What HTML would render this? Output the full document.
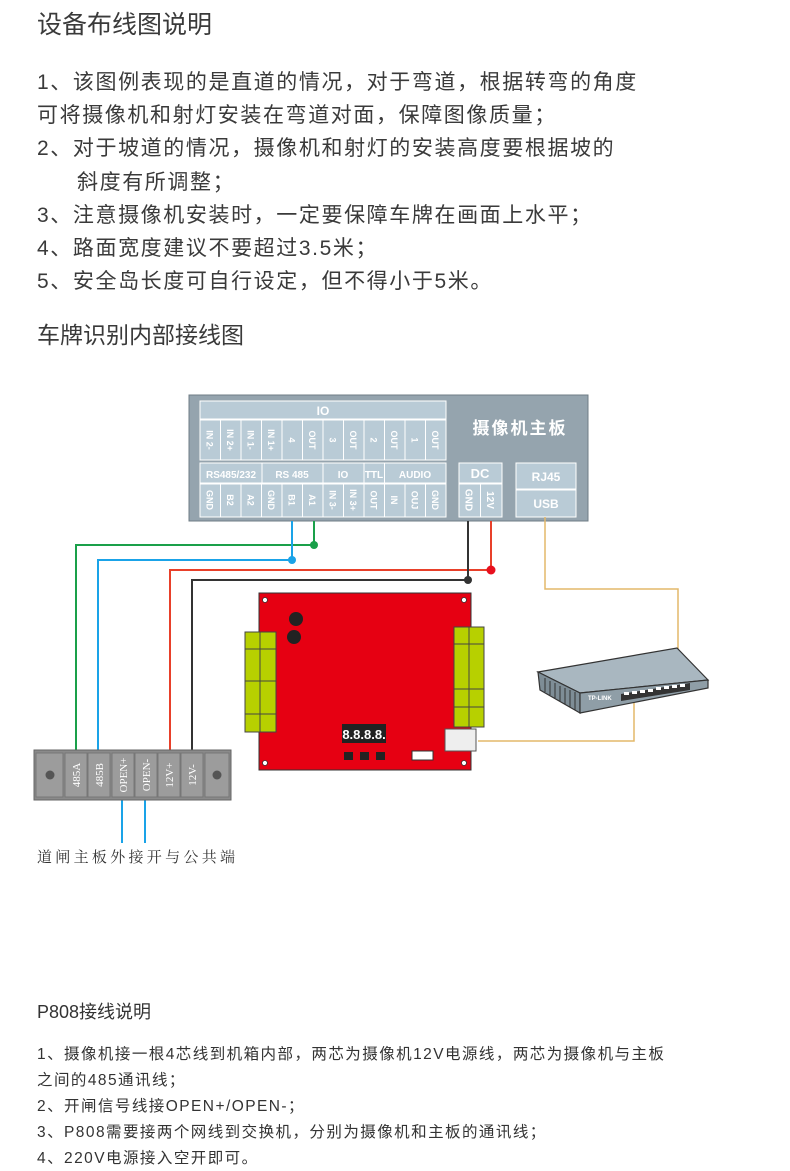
<!DOCTYPE html>
<html><head><meta charset="utf-8"><style>
html,body{margin:0;padding:0;background:#fff;}
body{width:790px;height:1171px;position:relative;overflow:hidden;font-family:"Liberation Sans","Noto Sans CJK SC",sans-serif;color:#333;}
.t{position:absolute;white-space:nowrap;left:37px;}
.h1{font-size:25px;top:5px;color:#3a3a3a;}
.p{font-size:21px;letter-spacing:1.6px;color:#3a3a3a;}
.h2{font-size:23px;top:316px;color:#3a3a3a;}
.h3{font-size:18px;top:998px;}
.q{font-size:15.5px;letter-spacing:1.45px;color:#333;}
svg{position:absolute;left:0;top:0;}
</style></head><body>
<div class="t h1">设备布线图说明</div>
<div class="t p" style="top:66px">1、该图例表现的是直道的情况，对于弯道，根据转弯的角度</div>
<div class="t p" style="top:99px">可将摄像机和射灯安装在弯道对面，保障图像质量；</div>
<div class="t p" style="top:132px">2、对于坡道的情况，摄像机和射灯的安装高度要根据坡的</div>
<div class="t p" style="top:166px;left:77px">斜度有所调整；</div>
<div class="t p" style="top:199px">3、注意摄像机安装时，一定要保障车牌在画面上水平；</div>
<div class="t p" style="top:232px">4、路面宽度建议不要超过3.5米；</div>
<div class="t p" style="top:265px">5、安全岛长度可自行设定，但不得小于5米。</div>
<div class="t h2">车牌识别内部接线图</div>
<div class="t h3">P808接线说明</div>
<div class="t q" style="top:1042px">1、摄像机接一根4芯线到机箱内部，两芯为摄像机12V电源线，两芯为摄像机与主板</div>
<div class="t q" style="top:1068px">之间的485通讯线；</div>
<div class="t q" style="top:1094px">2、开闸信号线接OPEN+/OPEN-；</div>
<div class="t q" style="top:1120px">3、P808需要接两个网线到交换机，分别为摄像机和主板的通讯线；</div>
<div class="t q" style="top:1146px">4、220V电源接入空开即可。</div>

<svg width="790" height="1171" viewBox="0 0 790 1171" font-family="Liberation Sans, Noto Sans CJK SC, sans-serif">
<!-- camera board -->
<rect x="189" y="395" width="399" height="126" fill="#95a4ae" stroke="#6f7c85"/>
<g fill="#b9cbd6" stroke="#fff" stroke-width="1">
<rect x="200" y="401" width="246" height="18"/>
<rect x="200" y="463" width="246" height="20"/>
<rect x="459" y="463" width="43" height="20"/>
<rect x="516" y="463" width="60" height="26"/>
<rect x="516" y="490" width="60" height="27"/>
</g>
<g fill="#b9cbd6" stroke="#fff" stroke-width="1">
<rect x="200.0" y="420" width="20.5" height="40"/><rect x="220.5" y="420" width="20.5" height="40"/><rect x="241.0" y="420" width="20.5" height="40"/><rect x="261.5" y="420" width="20.5" height="40"/><rect x="282.0" y="420" width="20.5" height="40"/><rect x="302.5" y="420" width="20.5" height="40"/><rect x="323.0" y="420" width="20.5" height="40"/><rect x="343.5" y="420" width="20.5" height="40"/><rect x="364.0" y="420" width="20.5" height="40"/><rect x="384.5" y="420" width="20.5" height="40"/><rect x="405.0" y="420" width="20.5" height="40"/><rect x="425.5" y="420" width="20.5" height="40"/>
<rect x="200.0" y="484" width="20.5" height="33"/><rect x="220.5" y="484" width="20.5" height="33"/><rect x="241.0" y="484" width="20.5" height="33"/><rect x="261.5" y="484" width="20.5" height="33"/><rect x="282.0" y="484" width="20.5" height="33"/><rect x="302.5" y="484" width="20.5" height="33"/><rect x="323.0" y="484" width="20.5" height="33"/><rect x="343.5" y="484" width="20.5" height="33"/><rect x="364.0" y="484" width="20.5" height="33"/><rect x="384.5" y="484" width="20.5" height="33"/><rect x="405.0" y="484" width="20.5" height="33"/><rect x="425.5" y="484" width="20.5" height="33"/>
<rect x="459" y="484" width="21.5" height="33"/><rect x="480.5" y="484" width="21.5" height="33"/>
</g>
<g stroke="#fff" stroke-width="1"><line x1="262" y1="463" x2="262" y2="483"/><line x1="323" y1="463" x2="323" y2="483"/><line x1="364" y1="463" x2="364" y2="483"/><line x1="384.5" y1="463" x2="384.5" y2="483"/></g>
<g fill="#fff" font-size="11" font-weight="bold" text-anchor="middle">
<text x="323" y="415" font-size="12">IO</text>
<text x="231" y="478" font-size="10">RS485/232</text>
<text x="292" y="478" font-size="10">RS 485</text>
<text x="343" y="478" font-size="10">IO</text>
<text x="374" y="478" font-size="10">TTL</text>
<text x="415" y="478" font-size="10">AUDIO</text>
<text x="480" y="478" font-size="13">DC</text>
<text x="546" y="481" font-size="12">RJ45</text>
<text x="546" y="508" font-size="12">USB</text>
<text x="520" y="434" font-size="17" letter-spacing="2">摄像机主板</text>
</g>
<g fill="#fff" font-size="9" font-weight="bold">
<text transform="translate(206.5,440) rotate(90)" text-anchor="middle">IN 2-</text>
<text transform="translate(227,440) rotate(90)" text-anchor="middle">IN 2+</text>
<text transform="translate(247.5,440) rotate(90)" text-anchor="middle">IN 1-</text>
<text transform="translate(268,440) rotate(90)" text-anchor="middle">IN 1+</text>
<text transform="translate(288.5,440) rotate(90)" text-anchor="middle">4</text>
<text transform="translate(309,440) rotate(90)" text-anchor="middle">OUT</text>
<text transform="translate(329.5,440) rotate(90)" text-anchor="middle">3</text>
<text transform="translate(350,440) rotate(90)" text-anchor="middle">OUT</text>
<text transform="translate(370.5,440) rotate(90)" text-anchor="middle">2</text>
<text transform="translate(391,440) rotate(90)" text-anchor="middle">OUT</text>
<text transform="translate(411.5,440) rotate(90)" text-anchor="middle">1</text>
<text transform="translate(432,440) rotate(90)" text-anchor="middle">OUT</text>
<text transform="translate(206.5,500) rotate(90)" text-anchor="middle">GND</text>
<text transform="translate(227,500) rotate(90)" text-anchor="middle">B2</text>
<text transform="translate(247.5,500) rotate(90)" text-anchor="middle">A2</text>
<text transform="translate(268,500) rotate(90)" text-anchor="middle">GND</text>
<text transform="translate(288.5,500) rotate(90)" text-anchor="middle">B1</text>
<text transform="translate(309,500) rotate(90)" text-anchor="middle">A1</text>
<text transform="translate(329.5,500) rotate(90)" text-anchor="middle">IN 3-</text>
<text transform="translate(350,500) rotate(90)" text-anchor="middle">IN 3+</text>
<text transform="translate(370.5,500) rotate(90)" text-anchor="middle">OUT</text>
<text transform="translate(391,500) rotate(90)" text-anchor="middle">IN</text>
<text transform="translate(411.5,500) rotate(90)" text-anchor="middle">OUJ</text>
<text transform="translate(432,500) rotate(90)" text-anchor="middle">GND</text>
<text transform="translate(465.5,500) rotate(90)" text-anchor="middle" font-size="10">GND</text>
<text transform="translate(487,500) rotate(90)" text-anchor="middle" font-size="10">12V</text>
</g>

<!-- wires -->
<g fill="none" stroke-width="2">
<polyline points="314,521 314,545 76,545 76,750" stroke="#1aa04a"/>
<polyline points="292,521 292,560 98,560 98,750" stroke="#1aa3e8"/>
<polyline points="491,521 491,570 170,570 170,750" stroke="#e8402a"/>
<polyline points="468,521 468,580 192,580 192,750" stroke="#333"/>
<polyline points="122,800 122,843" stroke="#1aa3e8"/>
<polyline points="145,800 145,843" stroke="#1aa3e8"/>
<polyline points="545,517 545,589 678,589 678,656" stroke="#e3b86a" stroke-width="1.5"/>
<polyline points="634,700 634,741 478,741" stroke="#e3b86a" stroke-width="1.5"/>
</g>
<circle cx="314" cy="545" r="4" fill="#1aa04a"/>
<circle cx="292" cy="560" r="4" fill="#1aa3e8"/>
<circle cx="491" cy="570" r="4.5" fill="#e8101e"/>
<circle cx="468" cy="580" r="4" fill="#333"/>

<!-- PCB -->
<rect x="259" y="593" width="212" height="177" fill="#e60012" stroke="#333"/>
<g fill="#fff" stroke="#333" stroke-width="0.8"><circle cx="265" cy="600" r="2.5"/><circle cx="464" cy="600" r="2.5"/><circle cx="265" cy="763" r="2.5"/><circle cx="464" cy="763" r="2.5"/></g>
<circle cx="296" cy="619" r="7" fill="#222"/><circle cx="294" cy="637" r="7" fill="#222"/>
<g fill="#b7d000" stroke="#444" stroke-width="1">
<rect x="245" y="632" width="31" height="17"/><rect x="245" y="649" width="31" height="32"/><rect x="245" y="681" width="31" height="33"/><rect x="245" y="714" width="31" height="18"/>
<rect x="454" y="627" width="30" height="17"/><rect x="454" y="644" width="30" height="45"/><rect x="454" y="689" width="30" height="18"/><rect x="454" y="707" width="30" height="20"/>
<line x1="260" y1="632" x2="260" y2="732"/><line x1="469" y1="627" x2="469" y2="727"/>
</g>
<rect x="342" y="724" width="44" height="19" fill="#222"/>
<text x="364" y="739" fill="#fff" font-size="13" font-weight="bold" text-anchor="middle">8.8.8.8.</text>
<rect x="344" y="752" width="9" height="8" fill="#222"/><rect x="360" y="752" width="9" height="8" fill="#222"/><rect x="376" y="752" width="9" height="8" fill="#222"/>
<rect x="412" y="751" width="21" height="9" fill="#fff" stroke="#333"/>
<rect x="445" y="729" width="31" height="22" fill="#eee" stroke="#555"/>

<!-- terminal block -->
<rect x="34" y="750" width="197" height="50" fill="#8a8a8a" stroke="#666"/>
<g fill="#9c9c9c" stroke="#777" stroke-width="1">
<rect x="36" y="753" width="27" height="44"/><rect x="205" y="753" width="24" height="44"/>
<rect x="65" y="753" width="22" height="44"/><rect x="88" y="753" width="22" height="44"/><rect x="112" y="753" width="22" height="44"/><rect x="135" y="753" width="22" height="44"/><rect x="158" y="753" width="22" height="44"/><rect x="181" y="753" width="22" height="44"/>
</g>
<circle cx="50" cy="775" r="4.5" fill="#555"/><circle cx="217" cy="775" r="4.5" fill="#555"/>
<g fill="#fff" font-size="11" font-family="Liberation Serif, serif" text-anchor="middle">
<text transform="translate(80,775) rotate(-90)">485A</text>
<text transform="translate(103,775) rotate(-90)">485B</text>
<text transform="translate(127,775) rotate(-90)">OPEN+</text>
<text transform="translate(150,775) rotate(-90)">OPEN-</text>
<text transform="translate(173,775) rotate(-90)">12V+</text>
<text transform="translate(196,775) rotate(-90)">12V-</text>
</g>
<text x="37" y="862" font-size="15" letter-spacing="3.3" fill="#333" font-family="Noto Serif CJK SC, serif">道闸主板外接开与公共端</text>

<!-- switch -->
<polygon points="538,672 677,648 708,680 580,693" fill="#a9b7c0" stroke="#333" stroke-width="1.2"/>
<polygon points="538,672 580,693 580,713 540,690" fill="#7e8d96" stroke="#333" stroke-width="1.2"/>
<polygon points="580,693 708,680 708,688 580,713" fill="#8f9ea7" stroke="#333" stroke-width="1.2"/>
<g stroke="#333" stroke-width="1"><line x1="545" y1="678" x2="545" y2="692"/><line x1="550" y1="681" x2="550" y2="695"/><line x1="555" y1="683" x2="555" y2="698"/><line x1="560" y1="686" x2="560" y2="701"/><line x1="565" y1="688" x2="565" y2="704"/><line x1="570" y1="690" x2="570" y2="707"/><line x1="575" y1="692" x2="575" y2="710"/></g>
<polygon points="621,694 690,683 690,690 621,701" fill="#333"/>
<g fill="#fff"><rect x="624" y="692" width="5" height="3"/><rect x="632" y="691" width="5" height="3"/><rect x="640" y="690" width="5" height="3"/><rect x="648" y="689" width="5" height="3"/><rect x="656" y="687" width="5" height="3"/><rect x="664" y="686" width="5" height="3"/><rect x="672" y="685" width="5" height="3"/><rect x="680" y="684" width="5" height="3"/></g>
<text x="588" y="700" font-size="6" fill="#fff" font-weight="bold">TP-LINK</text>
</svg>
</body></html>
